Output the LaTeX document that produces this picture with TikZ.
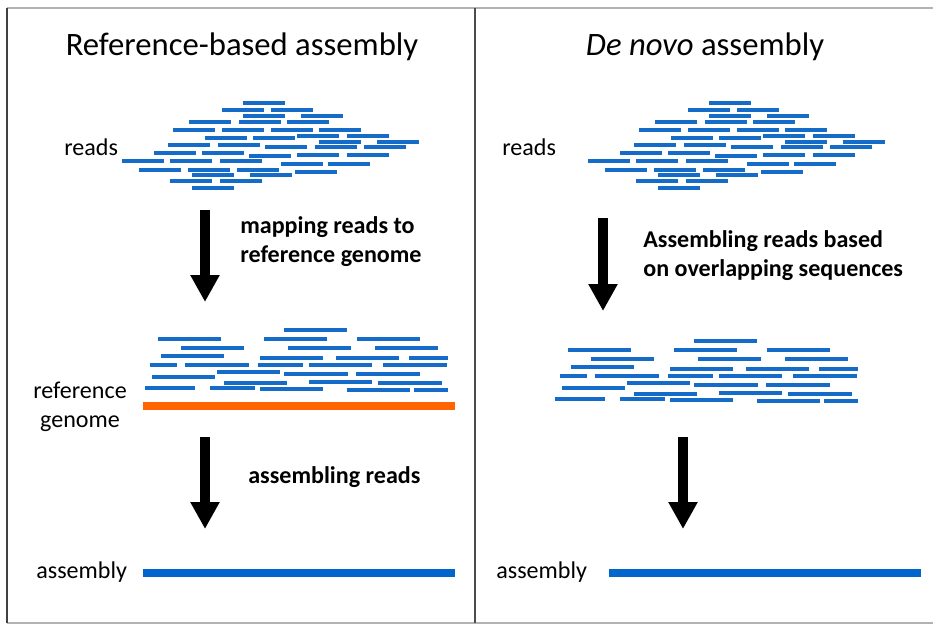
\documentclass[tikz,border=0pt]{standalone}
\usepackage{fontspec}
\setmainfont{Carlito}
\usetikzlibrary{arrows.meta}
\definecolor{readblue}{RGB}{20,108,200}
\definecolor{barblue}{RGB}{0,102,204}
\definecolor{refodd}{RGB}{255,102,0}
\tikzset{
  read/.style={readblue, line width=2.1pt},
  bar/.style={line width=5.1pt},
  fatarrow/.style={line width=6pt, -{Triangle[length=15.3pt,width=15.6pt]}},
  lbl/.style={inner sep=0pt, font=\fontsize{13.7}{16.5}\selectfont},
  note/.style={inner sep=0pt, align=left, font=\fontsize{13.7}{16.5}\selectfont\bfseries},
  heading/.style={inner sep=0pt, font=\fontsize{18.6}{22}\selectfont},
}
\begin{document}
\begin{tikzpicture}[x=0.02cm,y=-0.02cm]
        \useasboundingbox (0,0) rectangle (933,624);
        %% Frame
        \draw[black!30, line width=1.2pt] (7,8) -- (933,8);
        \draw[black!30, line width=1.2pt] (7,623) -- (933,623);
        \draw[black!75, line width=1.4pt] (7,8) -- (7,623);
        \draw[black!70, line width=1.4pt] (475,8) -- (475,623);
        %% Titles
        \node[heading] (title-ref) at (242,47) {Reference-based assembly};
        \node[heading] (title-dn) at (705,47) {\itshape De novo\upshape{} assembly};
        %% Labels
        \node[lbl, anchor=west] (reads-ref) at (64,147) {reads};
        \node[lbl, anchor=west] (reads-dn) at (502,147) {reads};
        \node[lbl, align=center] (genome) at (80,407) {reference\\genome};
        \node[lbl, anchor=west] (asm-ref) at (36,572) {assembly};
        \node[lbl, anchor=west] (asm-dn) at (496,572) {assembly};
        %% Raw reads (same cloud in both panels)
        \foreach \dx in {0,466}
            \foreach \x/\y in {243/103,222/110,271/110,243/116,301/116,
                189/122,239/122,287/122,173/130,222/130,271/130,319/130,
                297/136,347/136,205/138,253/138,319/142,377/142,168/145,
                218/145,265/147,315/147,364/147,154/153,202/153,297/155,
                347/155,249/156,122/161,170/161,220/161,281/164,328/164,
                139/170,188/170,237/170,295/172,192/175,250/175,170/181,
                220/181,192/188}
                \draw[read] (\x+\dx,\y) -- ++(42,0);
        %% Placed reads
        \foreach \dx/\dy in {0/0,410/11}
            \foreach \x/\y/\l in {284/330/63,158/339/63,264/339/63,357/339/63,
                181/348/63,288/348/63,375/348/63,161/356/63,260/358/63,
                336/358/63,409/358/39,150/365/27,185/365/64,258/365/45,
                309/365/63,383/365/64,217/372/63,284/374/64,356/374/64,
                152/377/63,309/382/63,224/383/63,378/383/64,145/388/50,
                210/388/45,260/389/63,347/390/63,414/390/34}
                \draw[read] (\x+\dx,\y+\dy) -- ++(\l,0);
        %% Reference genome and assemblies
        \draw[bar, refodd] (143,406) -- (455,406);
        \draw[bar, barblue] (143,573) -- (455,573);
        \draw[bar, barblue] (609,573) -- (921,573);
        %% Arrows
        \coordinate (map-top) at (205,210);
        \coordinate (map-tip) at (205,302);
        \coordinate (asm-top) at (205,437);
        \coordinate (asm-tip) at (205,529);
        \coordinate (ovl-top) at (603,218);
        \coordinate (ovl-tip) at (603,311);
        \coordinate (dn-top) at (683,437);
        \coordinate (dn-tip) at (683,529);
        \draw[fatarrow] (map-top) -- (map-tip);
        \draw[fatarrow] (asm-top) -- (asm-tip);
        \draw[fatarrow] (ovl-top) -- (ovl-tip);
        \draw[fatarrow] (dn-top) -- (dn-tip);
        \node[note, anchor=west] (map-txt) at (240,242) {mapping reads to\\reference genome};
        \node[note, anchor=west] (asm-txt) at (248,477) {assembling reads};
        \node[note, anchor=west] (ovl-txt) at (643,256) {Assembling reads based\\on overlapping sequences};
    \end{tikzpicture}
\end{document}
